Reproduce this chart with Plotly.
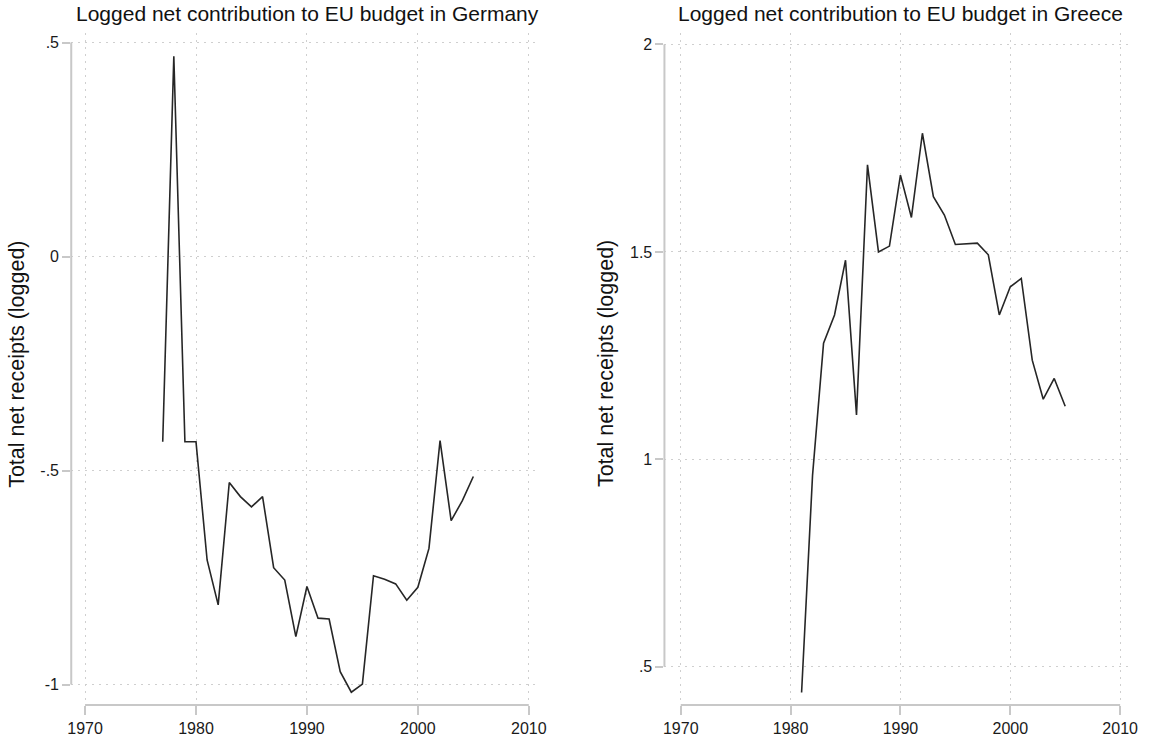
import plotly.graph_objects as go

# Germany: net contribution to the EU budget (logged), 1977-2005
years_de = list(range(1977, 2006))
net_de = [-0.433, 0.468, -0.433, -0.433, -0.709, -0.814, -0.528, -0.561, -0.585,
          -0.561, -0.727, -0.756, -0.888, -0.771, -0.845, -0.847, -0.970, -1.018,
          -0.999, -0.746, -0.754, -0.765, -0.803, -0.773, -0.682, -0.430, -0.617,
          -0.571, -0.514]

# Greece: net receipts from the EU budget (logged), 1981-2005
years_gr = list(range(1981, 2006))
net_gr = [0.438, 0.962, 1.280, 1.348, 1.480, 1.107, 1.710, 1.500, 1.514, 1.685,
          1.583, 1.786, 1.633, 1.589, 1.518, 1.519, 1.521, 1.493, 1.348, 1.416,
          1.436, 1.239, 1.145, 1.195, 1.128]

x_ticks = [1970, 1980, 1990, 2000, 2010]
x_ticktext = ["1970", "1980", "1990", "2000", "2010"]
y_ticks_de = [-1, -0.5, 0, 0.5]
y_ticktext_de = ["-1", "-.5", "0", ".5"]
y_ticks_gr = [0.5, 1, 1.5, 2]
y_ticktext_gr = [".5", "1", "1.5", "2"]

titles = ["Logged net contribution to EU budget in Germany",
          "Logged net contribution to EU budget in Greece"]
y_title = "Total net receipts (logged)"

W, H = 1149, 738
FONT = "Liberation Sans, Arial, Helvetica, sans-serif"
AXIS_GREY = "#c8c8c8"
GRID_GREY = "#cfcfcf"
LINE_COL = "#262626"

# pixel boxes of the two plot regions (left, right, top, bottom)
boxes = [(68, 540, 33, 705), (668, 1140, 33, 705)]
x_ranges = [[1968.752, 2010.82], [1968.515, 2010.999]]
y_ranges = [[-1.0479, 0.5222], [0.4077, 2.0277]]
ytitle_x = [13, 609]


def px_x(p):
    return p / W


def px_y(p):
    return 1 - p / H


fig = go.Figure()
fig.add_trace(go.Scatter(x=years_de, y=net_de, mode="lines",
                         line=dict(color=LINE_COL, width=1.6),
                         xaxis="x", yaxis="y", showlegend=False))
fig.add_trace(go.Scatter(x=years_gr, y=net_gr, mode="lines",
                         line=dict(color=LINE_COL, width=1.6),
                         xaxis="x2", yaxis="y2", showlegend=False))

common_x = dict(tickmode="array", tickvals=x_ticks, ticktext=x_ticktext,
                ticks="outside", ticklen=9, tickwidth=1.5, tickcolor=AXIS_GREY,
                showline=False, zeroline=False, showgrid=True,
                gridcolor=GRID_GREY, gridwidth=1, griddash="2px,5px",
                tickfont=dict(family=FONT, size=16, color="#1a1a1a"),
                fixedrange=True)
common_y = dict(tickmode="array", ticks="outside", ticklen=8, tickwidth=1.5,
                tickcolor=AXIS_GREY, showline=False, zeroline=False,
                showgrid=True, gridcolor=GRID_GREY, gridwidth=1,
                griddash="2px,5px",
                tickfont=dict(family=FONT, size=16, color="#1a1a1a"),
                fixedrange=True)

layout = dict(width=W, height=H, margin=dict(l=0, r=0, t=0, b=0),
              paper_bgcolor="white", plot_bgcolor="white", showlegend=False)

axis_names = [("xaxis", "yaxis", "x", "y"), ("xaxis2", "yaxis2", "x2", "y2")]
yticks = [(y_ticks_de, y_ticktext_de), (y_ticks_gr, y_ticktext_gr)]
shapes = []
annotations = []
for i, (xa, ya, xr, yr) in enumerate(axis_names):
    l, r, t, b = boxes[i]
    layout[xa] = dict(common_x, domain=[px_x(l), px_x(r)], range=x_ranges[i],
                      anchor=yr)
    layout[ya] = dict(common_y, domain=[px_y(b), px_y(t)], range=y_ranges[i],
                      anchor=xr, tickvals=yticks[i][0], ticktext=yticks[i][1])
    # axis lines span only between the outer ticks
    shapes.append(dict(type="line", xref=xr + " domain", yref=yr,
                       x0=0, x1=0, y0=min(yticks[i][0]), y1=max(yticks[i][0]),
                       line=dict(color=AXIS_GREY, width=2)))
    shapes.append(dict(type="line", xref=xr, yref=yr + " domain",
                       x0=x_ticks[0], x1=x_ticks[-1], y0=0, y1=0,
                       line=dict(color=AXIS_GREY, width=2)))
    # panel title
    annotations.append(dict(text=titles[i], xref="paper", yref="paper",
                            x=px_x((l + r) / 2 + 3), y=px_y(13),
                            xanchor="center", yanchor="middle", showarrow=False,
                            font=dict(family=FONT, size=21, color="#111111")))
    # y-axis title
    annotations.append(dict(text=y_title, xref="paper", yref="paper",
                            x=px_x(ytitle_x[i]), y=px_y(364), textangle=-90,
                            xanchor="center", yanchor="middle", showarrow=False,
                            font=dict(family=FONT, size=21.5, color="#111111")))

layout["shapes"] = shapes
layout["annotations"] = annotations
fig.update_layout(**layout)

fig.write_html("out.html")
